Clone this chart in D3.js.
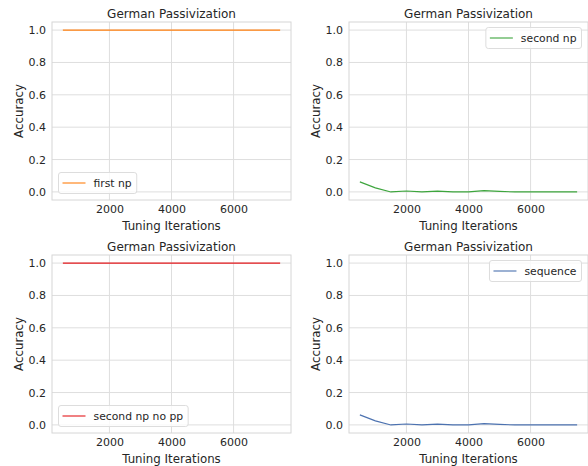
<!DOCTYPE html>
<html>
<head>
<meta charset="utf-8">
<script src="https://cdn.jsdelivr.net/npm/d3@7"></script>
<style>
  body { margin: 0; background: #fff; }
  text { font-family: "DejaVu Sans", sans-serif; fill: #262626; }
</style>
</head>
<body>
<script>
// data
var iterations = [500, 1000, 1500, 2000, 2500, 3000, 3500, 4000, 4500, 5000, 5500, 6000, 6500, 7000, 7500];
var firstNp = [1, 1, 1, 1, 1, 1, 1, 1, 1, 1, 1, 1, 1, 1, 1];
var secondNp = [0.062, 0.025, 0.0, 0.006, 0.0, 0.005, 0.0, 0.0, 0.008, 0.003, 0.0, 0.0, 0.0, 0.0, 0.0];
var secondNpNoPp = [1, 1, 1, 1, 1, 1, 1, 1, 1, 1, 1, 1, 1, 1, 1];
var sequence = [0.062, 0.025, 0.0, 0.006, 0.0, 0.005, 0.0, 0.0, 0.008, 0.003, 0.0, 0.0, 0.0, 0.0, 0.0];
var xTicks = [2000, 4000, 6000];
var yTicks = [0, 0.2, 0.4, 0.6, 0.8, 1.0];

var panels = [
  {label: "first np", values: firstNp, color: "#ff7f0e", legend: "bottom", left: 52, top: 22},
  {label: "second np", values: secondNp, color: "#3da53d", legend: "top", left: 349, top: 22},
  {label: "second np no pp", values: secondNpNoPp, color: "#e3191c", legend: "bottom", left: 52, top: 255},
  {label: "sequence", values: sequence, color: "#4c72b0", legend: "top", left: 349, top: 255}
];

var pw = 239, ph = 178;

var svg = d3.select("body").append("svg")
    .attr("width", 588)
    .attr("height", 466);

var x = d3.scaleLinear().domain([150, 7850]).range([0, pw]);
var y = d3.scaleLinear().domain([-0.05, 1.05]).range([ph, 0]);

panels.forEach(function(p) {
  var g = svg.append("g").attr("transform", "translate(" + p.left + "," + p.top + ")");

  // grid
  g.selectAll(".gx").data(xTicks).enter().append("line")
    .attr("x1", function(d) { return x(d); }).attr("x2", function(d) { return x(d); })
    .attr("y1", 0).attr("y2", ph)
    .style("stroke", "#dedede").style("stroke-width", 1);
  g.selectAll(".gy").data(yTicks).enter().append("line")
    .attr("y1", function(d) { return y(d); }).attr("y2", function(d) { return y(d); })
    .attr("x1", 0).attr("x2", pw)
    .style("stroke", "#dedede").style("stroke-width", 1);

  // frame
  g.append("rect").attr("width", pw).attr("height", ph)
    .style("fill", "none").style("stroke", "#d6d6d6").style("stroke-width", 1);

  // axes
  var xa = g.append("g").attr("transform", "translate(0," + ph + ")")
    .call(d3.axisBottom(x).tickValues(xTicks).tickSize(0).tickPadding(5).tickFormat(d3.format("d")));
  var ya = g.append("g")
    .call(d3.axisLeft(y).tickValues(yTicks).tickSize(0).tickPadding(6).tickFormat(d3.format(".1f")));
  [xa, ya].forEach(function(a) {
    a.select(".domain").remove();
    a.selectAll("text").style("font-size", "11px").style("font-family", "DejaVu Sans").style("fill", "#262626");
  });

  // labels
  g.append("text").attr("x", pw / 2).attr("y", -4).attr("text-anchor", "middle")
    .style("font-size", "12px").text("German Passivization");
  g.append("text").attr("x", pw / 2).attr("y", ph + 30).attr("text-anchor", "middle")
    .style("font-size", "11.8px").text("Tuning Iterations");
  g.append("text").attr("transform", "translate(-29," + (ph / 2) + ") rotate(-90)")
    .attr("text-anchor", "middle").style("font-size", "11.8px").text("Accuracy");

  // line
  var pts = iterations.map(function(it, i) { return [it, p.values[i]]; });
  g.append("path").datum(pts)
    .attr("d", d3.line().x(function(d) { return x(d[0]); }).y(function(d) { return y(d[1]); }))
    .style("fill", "none").style("stroke", p.color).style("stroke-width", 1.1);

  // legend
  var lg = g.append("g");
  var lt = lg.append("text").attr("x", 35).attr("y", 0).attr("dy", "0.35em")
    .style("font-size", "10.8px").text(p.label);
  var tw = lt.node().getComputedTextLength();
  var bw = 35 + tw + 5, bh = 21;
  var lx, ly;
  if (p.legend === "bottom") { lx = 6.5; ly = ph - 6.5 - bh; }
  else { lx = pw - 6.5 - bw; ly = 5.5; }
  lg.attr("transform", "translate(" + lx + "," + (ly + bh / 2) + ")");
  lg.insert("rect", "text").attr("x", 0).attr("y", -bh / 2).attr("width", bw).attr("height", bh)
    .attr("rx", 2.5).style("fill", "#fff").style("fill-opacity", 0.8)
    .style("stroke", "#dddddd").style("stroke-width", 1);
  lg.append("line").attr("x1", 4).attr("x2", 27).attr("y1", 0).attr("y2", 0)
    .style("stroke", p.color).style("stroke-width", 1.1);
});
</script>
</body>
</html>
